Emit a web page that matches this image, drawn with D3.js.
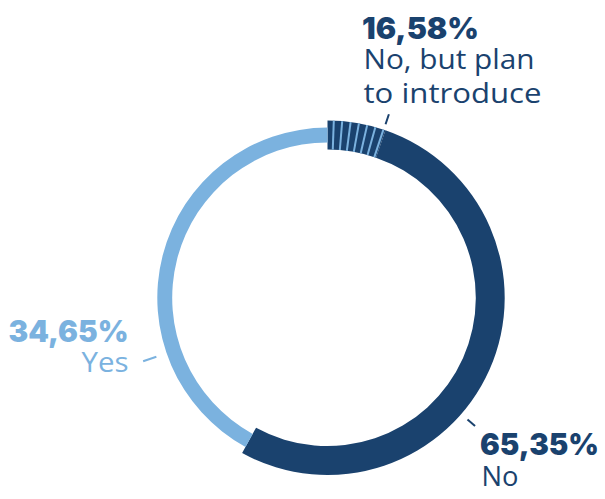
<!DOCTYPE html>
<html>
<head>
<meta charset="utf-8">
<script src="https://cdn.jsdelivr.net/npm/d3@7"></script>
<style>
  html, body { margin: 0; padding: 0; background: #fff; }
  svg { display: block; }
</style>
</head>
<body>
<script>
window.addEventListener('load', function () {
    //
    // DATA
    const categories = ['No, but plan to introduce', 'No', 'Yes'];
    const valueLabels = ['16,58%', '65,35%', '34,65%'];
    // share of the ring that each segment takes in the drawing
    const arcShares = [5.3, 52.7, 42.0];
    const nameLines = [['No, but plan', 'to introduce'], ['No'], ['Yes']];
    //
    // SIZE
    const WIDTH = 605;
    const HEIGHT = 499;
    const CX = 327.5;
    const CY = 297.8;
    const DARK = '#1a426e';
    const LIGHT = '#7bb2df';
    const STRIPES = 7;

    const svg = d3.select('body')
        .append('svg')
        .attr('width', WIDTH)
        .attr('height', HEIGHT);

    const g = svg.append('g')
        .attr('transform', 'translate(' + CX + ',' + CY + ')');

    const pie = d3.pie().sort(null).value(function (d) { return d; });
    const slices = pie(arcShares);

    // dark segments are thicker than the light one
    const ring = [
        { inner: 148.3, outer: 177.2, color: DARK },
        { inner: 148.3, outer: 177.2, color: DARK },
        { inner: 155.3, outer: 170.2, color: LIGHT }
    ];

    g.selectAll('path.seg')
        .data(slices)
        .enter()
        .append('path')
        .attr('class', 'seg')
        .attr('fill', function (d, i) { return ring[i].color; })
        .attr('d', function (d, i) {
            return d3.arc().innerRadius(ring[i].inner).outerRadius(ring[i].outer)(d);
        });

    // hatching on the first segment
    const h = slices[0];
    const stripeAngles = d3.range(1, STRIPES + 1).map(function (k) {
        return h.startAngle + (h.endAngle - h.startAngle) * k / STRIPES - 0.012;
    });
    g.selectAll('line.stripe')
        .data(stripeAngles)
        .enter()
        .append('line')
        .attr('class', 'stripe')
        .attr('stroke', LIGHT)
        .attr('stroke-width', 2)
        .attr('x1', function (a) { return d3.pointRadial(a, ring[0].inner)[0]; })
        .attr('y1', function (a) { return d3.pointRadial(a, ring[0].inner)[1]; })
        .attr('x2', function (a) { return d3.pointRadial(a, ring[0].outer)[0]; })
        .attr('y2', function (a) { return d3.pointRadial(a, ring[0].outer)[1]; });

    //
    // LABELS
    const deg = Math.PI / 180;
    const labels = [
        { angle: 18.5, r0: 183, r1: 193.5, color: DARK, anchor: 'start', x: 362, y: 38.5, wv: 117, wn: [171, 178] },
        { angle: 131, r0: 185.5, r1: 195.5, color: DARK, anchor: 'start', x: 480, y: 455, wv: 119, wn: [37] },
        { angle: 251, r0: 181, r1: 195, color: LIGHT, anchor: 'end', x: 128.5, y: 341.7, wv: 120, wn: [47] }
    ];

    labels.forEach(function (l, i) {
        const p0 = d3.pointRadial(l.angle * deg, l.r0);
        const p1 = d3.pointRadial(l.angle * deg, l.r1);
        g.append('line')
            .attr('x1', p0[0]).attr('y1', p0[1])
            .attr('x2', p1[0]).attr('y2', p1[1])
            .attr('stroke', l.color)
            .attr('stroke-width', 2);

        svg.append('text')
            .attr('x', l.x)
            .attr('y', l.y)
            .attr('text-anchor', l.anchor)
            .attr('fill', l.color)
            .style('font-family', 'Inter, Roboto, "DejaVu Sans", sans-serif')
            .style('font-weight', 900)
            .style('font-size', '30px')
            .attr('textLength', l.wv)
            .attr('lengthAdjust', 'spacingAndGlyphs')
            .text(valueLabels[i]);

        nameLines[i].forEach(function (line, j) {
            svg.append('text')
                .attr('x', l.anchor === 'start' ? l.x + 1.5 : l.x)
                .attr('y', l.y + 30.5 + j * 34)
                .attr('text-anchor', l.anchor)
                .attr('fill', l.color)
                .style('font-family', '"Open Sans", sans-serif')
                .style('font-weight', 400)
                .style('font-size', '28px')
                .attr('textLength', l.wn[j])
                .attr('lengthAdjust', 'spacingAndGlyphs')
                .text(line);
        });
    });
}, false);
</script>
</body>
</html>
